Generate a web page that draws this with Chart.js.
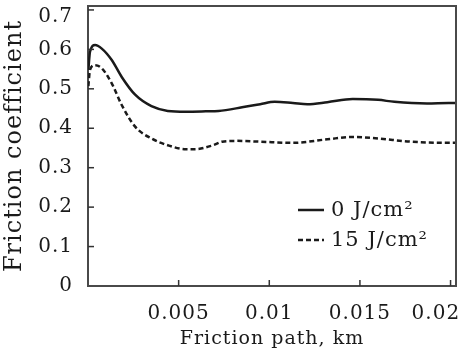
<!DOCTYPE html>
<html>
<head>
<meta charset="utf-8">
<script src="https://cdn.jsdelivr.net/npm/chart.js@4/dist/chart.umd.min.js"></script>
<style>
html,body{margin:0;padding:0;background:#fff;}
#wrap{width:460px;height:351px;position:relative;}
</style>
</head>
<body>
<div id="wrap"><canvas id="c"></canvas></div>
<script>
const seriesLabels = ['0 J/cm\u00B2', '15 J/cm\u00B2'];
const xTicks = [0.005, 0.01, 0.015, 0.02];
const yTicks = [0, 0.1, 0.2, 0.3, 0.4, 0.5, 0.6, 0.7];

const path0 = [0.00002,0.00011,0.00039,0.00076,0.00131,0.00186,0.0026,0.0035,0.0044,0.0054,0.0065,0.0072,0.0085,0.0095,0.0103,0.0113,0.0121,0.0132,0.0146,0.0160,0.0169,0.0187,0.0199,0.0203];
const mu0   = [0.548,0.594,0.611,0.602,0.573,0.530,0.485,0.456,0.444,0.442,0.443,0.444,0.453,0.461,0.467,0.464,0.461,0.466,0.474,0.472,0.467,0.463,0.464,0.464];

const path15 = [0.00002,0.00011,0.00039,0.00076,0.00131,0.00186,0.0026,0.0035,0.0044,0.0054,0.0059,0.0069,0.0074,0.0082,0.0095,0.0113,0.0132,0.0146,0.0160,0.0178,0.0197,0.0203];
const mu15   = [0.507,0.548,0.560,0.552,0.514,0.459,0.404,0.374,0.357,0.347,0.347,0.357,0.366,0.368,0.366,0.363,0.372,0.378,0.374,0.366,0.363,0.363];

const FONT = "'DejaVu Serif', serif";
const INK = '#1a1a1a';
const FRAME = '#4a4a4a';

function pts(xs, ys){ return xs.map((x,i)=>({x:x, y:ys[i]})); }

const dashes = [[], [5,3]];

const spacingPlugin = {
  id: 'spacing',
  beforeLayout(chart){ chart.ctx.letterSpacing = '1px'; },
  beforeDraw(chart){ chart.ctx.letterSpacing = '1px'; }
};

const overlayPlugin = {
  id: 'overlay',
  afterDraw(chart){
    const ctx = chart.ctx;
    const xs = chart.scales.x, ys = chart.scales.y;
    const L = xs.left, R = xs.right, T = ys.top, B = ys.bottom;
    ctx.save();
    ctx.fillStyle = FRAME;
    ctx.fillRect(R - 1, T - 1, 2, B - T + 2);
    ctx.fillStyle = '#333';
    xTicks.forEach(v=>{
      const px = xs.getPixelForValue(v);
      if (px < R - 3) ctx.fillRect(px - 0.75, B - 6, 1.5, 6);
    });
    yTicks.forEach(v=>{
      const py = ys.getPixelForValue(v);
      if (py > T + 3 && py < B - 3) ctx.fillRect(L, py - 0.75, 6, 1.5);
    });
    // legend
    ctx.font = "21px " + FONT;
    ctx.fillStyle = INK;
    ctx.textBaseline = 'middle';
    ctx.textAlign = 'left';
    const lx = 298, ly = [210, 240];
    chart.data.datasets.forEach((ds,i)=>{
      ctx.strokeStyle = INK;
      ctx.lineWidth = 2.5;
      ctx.setLineDash(dashes[i]);
      ctx.beginPath();
      ctx.moveTo(lx, ly[i]); ctx.lineTo(lx + 26, ly[i]);
      ctx.stroke();
      ctx.setLineDash([]);
      ctx.fillText(ds.label, lx + 33, ly[i] + 1);
    });
    ctx.restore();
  }
};

const edge = { display: true, color: FRAME, width: 2 };

new Chart(document.getElementById('c'), {
  type: 'line',
  data: {
    datasets: [
      { label: seriesLabels[0], data: pts(path0, mu0), borderColor: INK, borderWidth: 2.5, pointRadius: 0, cubicInterpolationMode: 'monotone', fill: false },
      { label: seriesLabels[1], data: pts(path15, mu15), borderColor: INK, borderWidth: 2.5, borderDash: dashes[1], pointRadius: 0, cubicInterpolationMode: 'monotone', fill: false }
    ]
  },
  options: {
    responsive: true,
    maintainAspectRatio: false,
    animation: false,
    layout: { padding: { left: 0, right: 4, top: 6, bottom: 0 } },
    plugins: { legend: { display: false }, tooltip: { enabled: false } },
    scales: {
      x: {
        type: 'linear', min: 0, max: 0.0203,
        afterBuildTicks(s){ s.ticks = xTicks.map(v=>({value:v})); },
        afterFit(s){ s.height = 65; s.paddingLeft = 0; s.paddingRight = 0; },
        grid: { display: false, drawTicks: false },
        border: edge,
        ticks: {
          color: INK, padding: 16, maxRotation: 0, autoSkip: false,
          font: { family: FONT, size: 20 },
          callback(v){ return v === 0.02 ? '0.02\u00A0\u00A0\u00A0\u00A0' : String(v); }
        },
        title: { display: true, text: 'Friction path, km', color: INK, font: { family: FONT, size: 19 }, padding: { top: 0, bottom: 1 } }
      },
      x2: {
        type: 'linear', position: 'top', min: 0, max: 1,
        afterFit(s){ s.height = 0; s.paddingLeft = 0; s.paddingRight = 0; },
        grid: { display: false, drawTicks: false },
        border: edge,
        ticks: { display: false }
      },
      y: {
        type: 'linear', min: 0, max: 0.71,
        afterBuildTicks(s){ s.ticks = yTicks.map(v=>({value:v})); },
        afterFit(s){ s.width = 88; s.paddingTop = 0; s.paddingBottom = 0; },
        grid: { display: false, drawTicks: false },
        border: edge,
        ticks: {
          color: INK, padding: 15, autoSkip: false,
          font: { family: FONT, size: 20, lineHeight: 0.7 },
          callback(v){ return v === 0.7 ? ['', '0.7'] : String(v); }
        },
        title: { display: true, text: 'Friction coefficient', color: INK, font: { family: FONT, size: 24 }, padding: { top: 0, bottom: 0 } }
      },
      y2: {
        type: 'linear', position: 'right', min: 0, max: 1,
        afterFit(s){ s.width = 0; s.paddingTop = 0; s.paddingBottom = 0; },
        grid: { display: false, drawTicks: false },
        border: edge,
        ticks: { display: false }
      }
    }
  },
  plugins: [spacingPlugin, overlayPlugin]
});
</script>
</body>
</html>
